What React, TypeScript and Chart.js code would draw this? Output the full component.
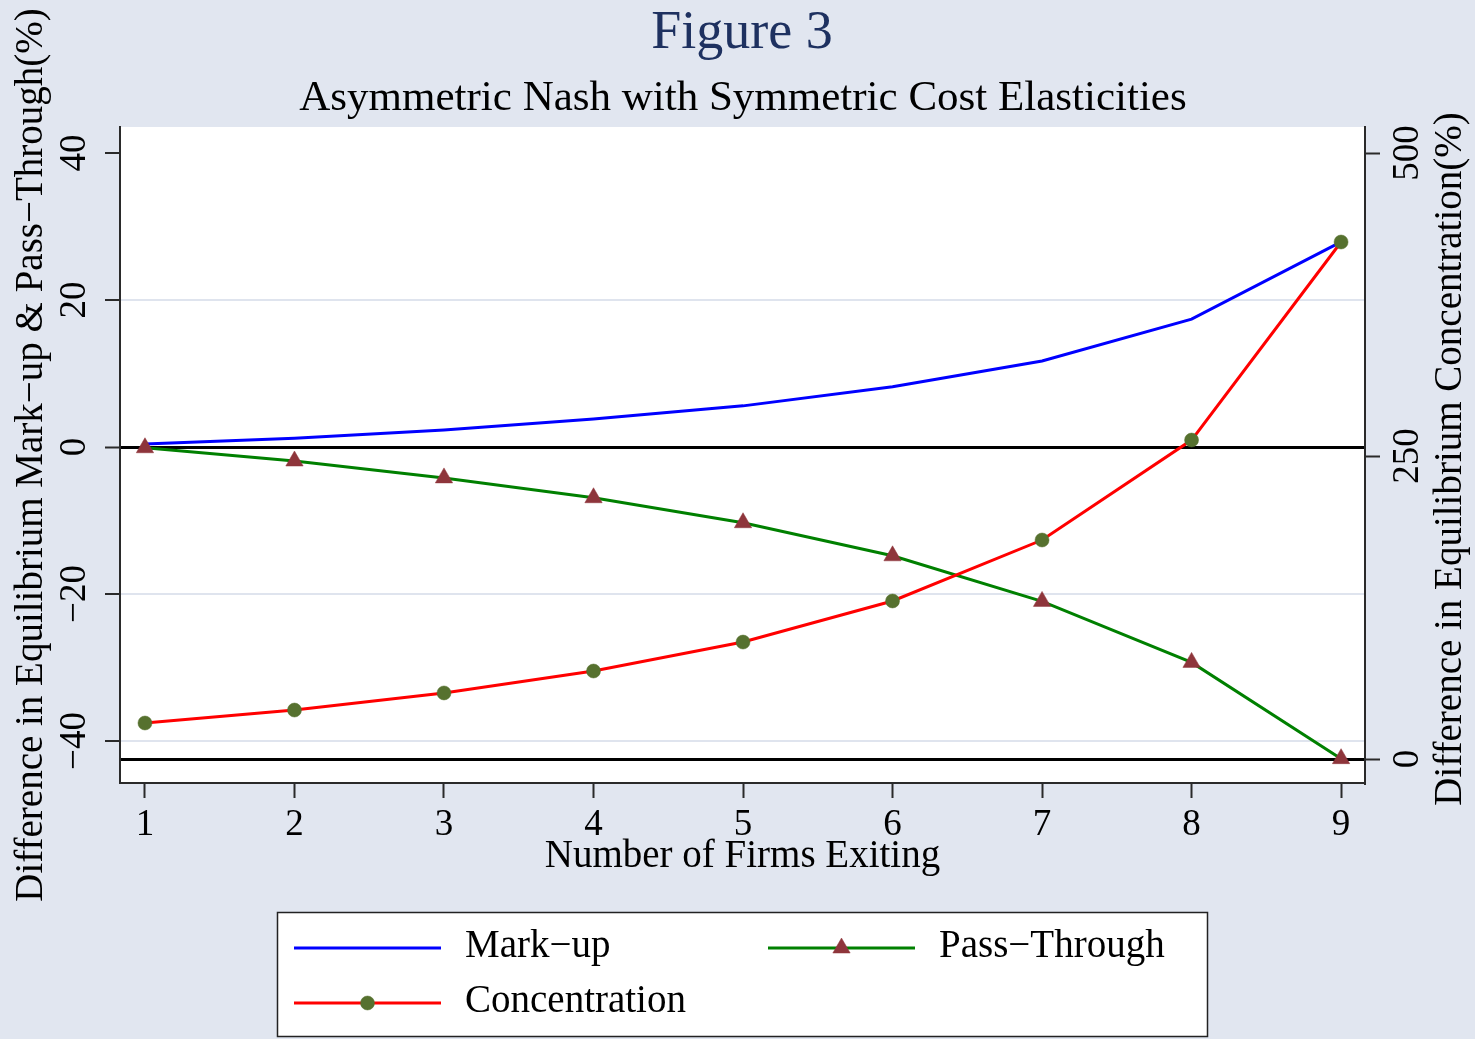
import React, { useEffect, useRef } from 'react';
import { Chart, registerables } from 'chart.js';
import { drawPoint } from 'chart.js/helpers';

Chart.register(...registerables);

// ---------------- data ----------------
const FIRMS_EXITING = [1, 2, 3, 4, 5, 6, 7, 8, 9];
const MARKUP = [0.4, 1.2, 2.3, 3.8, 5.6, 8.2, 11.7, 17.4, 27.9];
const PASS_THROUGH = [-0.1, -1.9, -4.2, -6.9, -10.3, -14.8, -21.0, -29.3, -42.4];
const CONCENTRATION = [29.7, 40.4, 54.5, 72.6, 96.5, 130.4, 180.7, 263.2, 426.6];
const X_TICKS = [1, 2, 3, 4, 5, 6, 7, 8, 9];
const LEFT_TICKS = [-40, -20, 0, 20, 40];
const RIGHT_TICKS = [0, 250, 500];
const SERIES_NAMES = ['Mark\u2212up', 'Pass\u2212Through', 'Concentration'];

const TITLE = 'Figure 3';
const SUBTITLE = 'Asymmetric Nash with Symmetric Cost Elasticities';
const X_TITLE = 'Number of Firms Exiting';
const LEFT_TITLE = 'Difference in Equilibrium Mark\u2212up & Pass\u2212Through(%)';
const RIGHT_TITLE = 'Difference in Equilibrium Concentration(%)';

// ---------------- style ----------------
const FONT = '"Liberation Serif", "Times New Roman", Times, serif';
const BG = '#E1E6F0';
const GRID = '#DFE4EE';
const AXIS = '#2a2a2a';
const BLUE = '#0000FF';
const RED = '#FF0000';
const GREEN = '#008000';
const TRI_FILL = '#8E353B';
const CIRC_FILL = '#56712F';

const fmt = (v: number) => (v < 0 ? '\u2212' + Math.abs(v) : String(v));

const decorPlugin = {
  id: 'decor',
  beforeDraw(chart: any) {
    const { ctx, chartArea: a } = chart;
    ctx.save();
    ctx.fillStyle = BG;
    ctx.fillRect(0, 0, chart.width, chart.height);
    ctx.fillStyle = '#FFFFFF';
    ctx.fillRect(a.left, a.top, a.right - a.left, a.bottom - a.top);
    ctx.restore();
  },
  afterDraw(chart: any) {
    const { ctx, chartArea: a } = chart;
    const xs = chart.scales.x;
    const yl = chart.scales.y;
    const yr = chart.scales.y2;
    ctx.save();

    // titles
    ctx.textAlign = 'center';
    ctx.textBaseline = 'alphabetic';
    ctx.fillStyle = '#1E3160';
    ctx.font = `54px ${FONT}`;
    ctx.fillText(TITLE, 742, 48);
    ctx.fillStyle = '#000';
    ctx.font = `43px ${FONT}`;
    ctx.fillText(SUBTITLE, 743, 110);

    // tick labels
    ctx.font = `37px ${FONT}`;
    ctx.fillStyle = '#000';
    xs.ticks.forEach((t: any) => {
      ctx.fillText(fmt(t.value), xs.getPixelForValue(t.value), 835);
    });
    yl.ticks.forEach((t: any) => {
      const py = yl.getPixelForValue(t.value);
      ctx.save();
      ctx.translate(85, py);
      ctx.rotate(-Math.PI / 2);
      ctx.textAlign = 'center';
      ctx.fillText(fmt(t.value), 0, 0);
      ctx.restore();
    });
    yr.ticks.forEach((t: any) => {
      const py = yr.getPixelForValue(t.value);
      ctx.save();
      ctx.translate(1418, py);
      ctx.rotate(-Math.PI / 2);
      ctx.textAlign = 'center';
      ctx.fillText(fmt(t.value), 0, 0);
      ctx.restore();
    });

    // axis titles
    ctx.font = `39px ${FONT}`;
    ctx.fillText(X_TITLE, (a.left + a.right) / 2, 867);
    ctx.save();
    ctx.translate(42, 455);
    ctx.rotate(-Math.PI / 2);
    ctx.textAlign = 'center';
    ctx.fillText(LEFT_TITLE, 0, 0);
    ctx.restore();
    ctx.save();
    ctx.translate(1461, 459);
    ctx.rotate(-Math.PI / 2);
    ctx.textAlign = 'center';
    ctx.fillText(RIGHT_TITLE, 0, 0);
    ctx.restore();

    // legend box
    ctx.fillStyle = '#FFFFFF';
    ctx.fillRect(277, 912, 931, 125);
    ctx.strokeStyle = '#222';
    ctx.lineWidth = 1.5;
    ctx.strokeRect(277.5, 912.5, 930, 124);

    const ds = chart.data.datasets;
    const items = [
      { d: ds[0], x0: 294, x1: 441, y: 948, tx: 465, ty: 957 },
      { d: ds[1], x0: 768, x1: 915, y: 948, tx: 939, ty: 957 },
      { d: ds[2], x0: 294, x1: 441, y: 1003, tx: 465, ty: 1012 },
    ];
    items.forEach((it) => {
      ctx.strokeStyle = it.d.borderColor;
      ctx.lineWidth = it.d.borderWidth;
      ctx.beginPath();
      ctx.moveTo(it.x0, it.y);
      ctx.lineTo(it.x1, it.y);
      ctx.stroke();
      if (it.d.pointRadius > 0) {
        ctx.fillStyle = it.d.pointBackgroundColor;
        ctx.strokeStyle = it.d.pointBackgroundColor;
        ctx.lineWidth = 0.5;
        drawPoint(ctx, { pointStyle: it.d.pointStyle, radius: it.d.pointRadius, borderWidth: 0.5, rotation: 0 }, (it.x0 + it.x1) / 2, it.y);
      }
      ctx.fillStyle = '#000';
      ctx.textAlign = 'left';
      ctx.font = `39px ${FONT}`;
      ctx.fillText(it.d.label, it.tx, it.ty);
    });

    ctx.restore();
  },
};

export default function App() {
  const ref = useRef<HTMLCanvasElement | null>(null);

  useEffect(() => {
    if (!ref.current) return;
    const toXY = (ys: number[]) => FIRMS_EXITING.map((x, i) => ({ x, y: ys[i] }));
    const chart = new Chart(ref.current, {
      type: 'line',
      data: {
        datasets: [
          {
            label: SERIES_NAMES[0],
            data: toXY(MARKUP),
            yAxisID: 'y',
            borderColor: BLUE,
            borderWidth: 3,
            pointRadius: 0,
            order: 3,
          },
          {
            label: SERIES_NAMES[1],
            data: toXY(PASS_THROUGH),
            yAxisID: 'y',
            borderColor: GREEN,
            borderWidth: 3,
            pointStyle: 'triangle',
            pointRadius: 10,
            pointBackgroundColor: TRI_FILL,
            pointBorderColor: TRI_FILL,
            pointBorderWidth: 0.5,
            order: 2,
          },
          {
            label: SERIES_NAMES[2],
            data: toXY(CONCENTRATION),
            yAxisID: 'y2',
            borderColor: RED,
            borderWidth: 3,
            pointStyle: 'circle',
            pointRadius: 7,
            pointBackgroundColor: CIRC_FILL,
            pointBorderColor: CIRC_FILL,
            pointBorderWidth: 0.5,
            order: 1,
          },
        ] as any,
      },
      options: {
        responsive: false,
        maintainAspectRatio: false,
        animation: false,
        devicePixelRatio: 1,
        layout: { padding: { top: 127, left: 0, right: 0, bottom: 0 } },
        plugins: {
          legend: { display: false },
          title: { display: false },
          tooltip: { enabled: false },
        },
        elements: { line: { tension: 0 } },
        scales: {
          x: {
            type: 'linear',
            position: 'bottom',
            min: 0.833,
            max: 9.16,
            afterBuildTicks: (s: any) => {
              s.ticks = X_TICKS.map((v) => ({ value: v }));
            },
            afterFit: (s: any) => {
              s.height = 256;
            },
            ticks: { display: false },
            grid: { drawOnChartArea: false, drawTicks: true, tickLength: 15, tickColor: AXIS, tickWidth: 2 },
            border: { display: true, color: AXIS, width: 2 },
          },
          y: {
            type: 'linear',
            position: 'left',
            min: -45.71,
            max: 43.54,
            afterBuildTicks: (s: any) => {
              s.ticks = LEFT_TICKS.map((v) => ({ value: v }));
            },
            afterFit: (s: any) => {
              s.width = 120;
            },
            ticks: { display: false },
            grid: {
              drawOnChartArea: true,
              drawTicks: true,
              tickLength: 15,
              tickColor: AXIS,
              tickWidth: 2,
              color: (c: any) =>
                c.tick && c.tick.value === 0 ? '#000000' : c.tick && c.tick.value === 40 ? 'rgba(0,0,0,0)' : GRID,
              lineWidth: (c: any) => (c.tick && c.tick.value === 0 ? 3 : 2),
            },
            border: { display: true, color: AXIS, width: 2 },
          },
          y2: {
            type: 'linear',
            position: 'right',
            min: -19.8,
            max: 521.5,
            afterBuildTicks: (s: any) => {
              s.ticks = RIGHT_TICKS.map((v) => ({ value: v }));
            },
            afterFit: (s: any) => {
              s.width = 110;
            },
            ticks: { display: false },
            grid: {
              drawOnChartArea: true,
              drawTicks: true,
              tickLength: 15,
              tickColor: AXIS,
              tickWidth: 2,
              color: (c: any) => (c.tick && c.tick.value === 0 ? '#000000' : 'rgba(0,0,0,0)'),
              lineWidth: 3,
            },
            border: { display: true, color: AXIS, width: 2 },
          },
        },
      } as any,
      plugins: [decorPlugin],
    });
    return () => chart.destroy();
  }, []);

  return (
    <div style={{ position: 'absolute', left: 0, top: 0, width: 1475, height: 1039 }}>
      <canvas ref={ref} width={1475} height={1039} style={{ display: 'block', width: 1475, height: 1039 }} />
    </div>
  );
}
